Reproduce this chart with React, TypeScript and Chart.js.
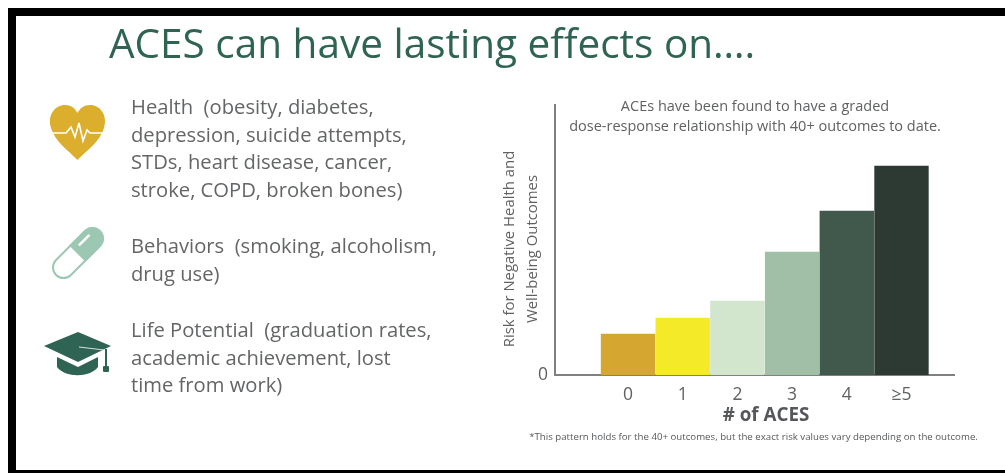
import React, { useEffect, useRef } from "react";
import { Chart, registerables } from "chart.js";

Chart.register(...registerables);

// Chart data: relative risk grows with the number of adverse childhood experiences.
const aceCounts = [0, 1, 2, 3, 4, 5];
const tickLabels = ["0", "1", "2", "3", "4", "≥5"];
const riskValues = [41, 57, 74, 123, 164, 209];
const barColors = ["#d6a730", "#f4ea27", "#d2e5cd", "#a0bfa6", "#41584c", "#2d3a33"];

const subtitleLines = ["ACEs have been found to have a graded", "dose-response relationship with 40+ outcomes to date."];
const yTitleLines = ["Risk for Negative Health and", "Well-being Outcomes"];
const xTitle = "# of ACES";
const footnote = "*This pattern holds for the 40+ outcomes, but the exact risk values vary depending on the outcome.";

const headline = "ACES can have lasting effects on….";
const healthLines = ["Health  (obesity, diabetes,", "depression, suicide attempts,", "STDs, heart disease, cancer,", "stroke, COPD, broken bones)"];
const behaviorLines = ["Behaviors  (smoking, alcoholism,", "drug use)"];
const potentialLines = ["Life Potential  (graduation rates,", "academic achievement, lost", "time from work)"];

const FONT = '"Open Sans", sans-serif';
const TEXT_GREY = "#5f6163";
const AXIS_GREY = "#7f8181";

// Captions that sit around the plot and are offset from the scales' own centres.
const captionsPlugin = {
  id: "captions",
  afterDraw(chart: any) {
    const { ctx, scales } = chart;
    const cx = (scales.x.left + scales.x.right) / 2;
    const base = scales.y.bottom;
    ctx.save();
    ctx.textAlign = "center";
    ctx.textBaseline = "middle";
    ctx.fillStyle = TEXT_GREY;

    ctx.font = `14.5px ${FONT}`;
    subtitleLines.forEach((line, i) => ctx.fillText(line, cx + 0.5, base - 268 + i * 20));

    ctx.font = `bold 18.8px ${FONT}`;
    ctx.fillStyle = "#55575a";
    ctx.fillText(xTitle, cx + 11.5, base + 41);

    ctx.font = `9.68px ${FONT}`;
    ctx.fillText(footnote, cx - 1, base + 62);

    ctx.font = `14.9px ${FONT}`;
    ctx.fillStyle = TEXT_GREY;
    yTitleLines.forEach((line, i) => {
      ctx.save();
      ctx.translate(scales.y.left + 20 + i * 23, base - 126);
      ctx.rotate(-Math.PI / 2);
      ctx.fillText(line, 0, 0);
      ctx.restore();
    });
    ctx.restore();
  },
};

function TextBlock({ lines, top }: { lines: string[]; top: number }) {
  return (
    <div style={{ position: "absolute", left: 131, top, font: `20.2px/27.5px ${FONT}`, color: "#636567", whiteSpace: "pre" }}>
      {lines.map((line) => (
        <div key={line}>{line}</div>
      ))}
    </div>
  );
}

function Icons() {
  return (
    <svg width={130} height={300} viewBox="0 90 130 300" style={{ position: "absolute", left: 0, top: 90 }}>
      {/* heart with pulse trace */}
      <path d="M77.5 160 C70 152 55 142 51 128 C47 115 55 105 65 105 C71 105 75 108 77.5 113 C80 108 84 105 90 105 C100 105 108 115 104 128 C100 142 85 152 77.5 160 Z" fill="#dcae2e" />
      <polyline points="52,133 66,133 71,127 75,137 79,123 83,141 87,130 90,133 103,133" fill="none" stroke="#fff" strokeWidth={1.6} />
      {/* capsule */}
      <g transform="translate(78 253) rotate(-45)">
        <rect x={-31} y={-10.5} width={62} height={21} rx={10.5} fill="#fff" stroke="#9cc8b3" strokeWidth={2} />
        <path d="M-1 -11.5 H20 A11.5 11.5 0 0 1 20 11.5 H-1 Z" fill="#9cc8b3" />
        <rect x={6} y={-6} width={15} height={2.5} fill="#fff" />
      </g>
      {/* graduation cap */}
      <path d="M44 346 L78 332 L111 346 L78 362 Z" fill="#2f6354" />
      <path d="M57 357 L78 367 L98 357 L98 367 C90 378 65 378 57 367 Z" fill="#2f6354" />
      <path d="M79 347 L104 350 L104 369" fill="none" stroke="#fff" strokeWidth={0.8} />
      <rect x={105} y={349} width={2} height={18} fill="#2f6354" />
      <rect x={103} y={366} width={6} height={6} rx={1} fill="#2f6354" />
    </svg>
  );
}

export default function App() {
  const canvasRef = useRef<HTMLCanvasElement>(null);

  useEffect(() => {
    const chart = new Chart(canvasRef.current!, {
      type: "bar",
      data: {
        datasets: [
          {
            data: aceCounts.map((x, i) => ({ x, y: riskValues[i] })),
            backgroundColor: barColors,
            barThickness: 53.7,
          },
        ],
      },
      options: {
        responsive: false,
        animation: false,
        layout: { padding: { left: 490, top: 105, right: 51, bottom: 0 } },
        plugins: { legend: { display: false }, title: { display: false }, tooltip: { enabled: false } },
        scales: {
          x: {
            type: "linear",
            offset: false,
            min: -1.3345,
            max: 5.96,
            grid: { display: false, drawTicks: false },
            border: { display: true, color: AXIS_GREY, width: 2 },
            afterFit: (scale: any) => {
              scale.height = 98;
            },
            ticks: {
              stepSize: 1,
              includeBounds: false,
              autoSkip: false,
              maxRotation: 0,
              padding: 10,
              color: TEXT_GREY,
              font: { family: FONT, size: 17.5 },
              callback: (value: any) => tickLabels[value as number] ?? "",
            },
          },
          y: {
            min: 0,
            max: 270,
            grid: { display: false, drawTicks: false },
            border: { display: true, color: AXIS_GREY, width: 2 },
            afterFit: (scale: any) => {
              scale.width = 65;
            },
            ticks: {
              stepSize: 270,
              padding: 7,
              color: TEXT_GREY,
              font: { family: FONT, size: 17.5 },
              callback: (value: any) => (value === 0 ? "0" : ""),
            },
          },
        },
      },
      plugins: [captionsPlugin],
    } as any);
    return () => chart.destroy();
  }, []);

  return (
    <div style={{ position: "absolute", left: 0, top: 0, width: 1005, height: 473, overflow: "hidden", background: "#fff" }}>
      {/* black frame */}
      <div style={{ position: "absolute", left: 8, top: 8, right: 0, height: 8, background: "#000" }} />
      <div style={{ position: "absolute", left: 8, top: 8, width: 8, height: 465, background: "#000" }} />
      <div style={{ position: "absolute", left: 8, right: 0, top: 470, height: 3, background: "#000" }} />
      <canvas ref={canvasRef} width={1005} height={473} style={{ position: "absolute", left: 0, top: 0, display: "block" }} />
      <div style={{ position: "absolute", left: 109, top: 15, font: `40.5px/56px ${FONT}`, color: "#2f6354", whiteSpace: "pre" }}>{headline}</div>
      <TextBlock lines={healthLines} top={93} />
      <TextBlock lines={behaviorLines} top={232} />
      <TextBlock lines={potentialLines} top={316} />
      <Icons />
    </div>
  );
}
